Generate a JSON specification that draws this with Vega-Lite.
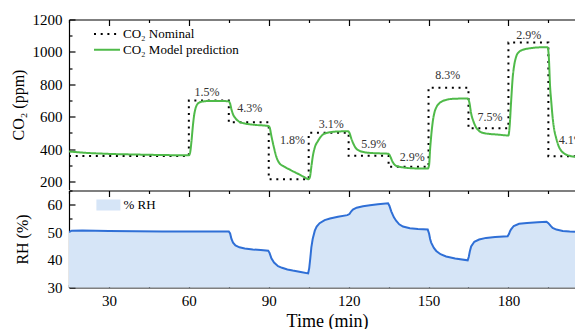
{
  "$schema": "https://vega.github.io/schema/vega-lite/v6.json",
  "padding": {"left": 10, "top": 12.5, "right": 0, "bottom": 0},
  "spacing": 0,
  "config": {
    "font": "Liberation Serif",
    "view": {"stroke": null},
    "axis": {"labelFont": "Liberation Serif", "titleFont": "Liberation Serif", "labelColor": "black", "titleColor": "black", "domainColor": "black", "tickColor": "black", "grid": false, "labelFontSize": 15, "titleFontWeight": "normal", "domainWidth": 1.2, "tickWidth": 1.2},
    "legend": {"labelFont": "Liberation Serif", "labelFontSize": 13, "labelColor": "black", "padding": 0}
  },
  "datasets": {
    "nominal": [
      {"t": 15, "co2": 357, "s": "CO₂ Nominal"},
      {"t": 60, "co2": 700, "s": "CO₂ Nominal"},
      {"t": 75, "co2": 565, "s": "CO₂ Nominal"},
      {"t": 90, "co2": 213, "s": "CO₂ Nominal"},
      {"t": 105, "co2": 500, "s": "CO₂ Nominal"},
      {"t": 120, "co2": 358, "s": "CO₂ Nominal"},
      {"t": 135, "co2": 290, "s": "CO₂ Nominal"},
      {"t": 150, "co2": 778, "s": "CO₂ Nominal"},
      {"t": 165, "co2": 528, "s": "CO₂ Nominal"},
      {"t": 180, "co2": 1058, "s": "CO₂ Nominal"},
      {"t": 195, "co2": 356, "s": "CO₂ Nominal"},
      {"t": 205, "co2": 356, "s": "CO₂ Nominal"}
    ],
    "model": [
      {"t": 15, "co2": 385}, {"t": 20, "co2": 378}, {"t": 30, "co2": 370}, {"t": 40, "co2": 366}, {"t": 50, "co2": 363}, {"t": 60, "co2": 361},
      {"t": 60.5, "co2": 380}, {"t": 61, "co2": 450}, {"t": 61.5, "co2": 540}, {"t": 62, "co2": 610}, {"t": 62.5, "co2": 650}, {"t": 63, "co2": 672}, {"t": 64, "co2": 688}, {"t": 65, "co2": 693}, {"t": 68, "co2": 697}, {"t": 72, "co2": 697}, {"t": 75, "co2": 694},
      {"t": 75.5, "co2": 680}, {"t": 76, "co2": 645}, {"t": 76.6, "co2": 614}, {"t": 77.5, "co2": 590}, {"t": 79, "co2": 568}, {"t": 81, "co2": 558}, {"t": 85, "co2": 549}, {"t": 89.8, "co2": 542},
      {"t": 90.3, "co2": 535}, {"t": 91, "co2": 480}, {"t": 91.8, "co2": 420}, {"t": 92.9, "co2": 350}, {"t": 94, "co2": 313}, {"t": 96, "co2": 290}, {"t": 98, "co2": 272}, {"t": 100, "co2": 255}, {"t": 101.6, "co2": 242}, {"t": 103, "co2": 230}, {"t": 105, "co2": 214},
      {"t": 105.5, "co2": 230}, {"t": 106, "co2": 290}, {"t": 106.6, "co2": 360}, {"t": 107.3, "co2": 410}, {"t": 108.5, "co2": 450}, {"t": 109.5, "co2": 475}, {"t": 110.4, "co2": 490}, {"t": 112, "co2": 500}, {"t": 114, "co2": 506}, {"t": 117, "co2": 509}, {"t": 119.8, "co2": 510},
      {"t": 120.3, "co2": 500}, {"t": 121, "co2": 465}, {"t": 121.6, "co2": 440}, {"t": 122.5, "co2": 410}, {"t": 124, "co2": 390}, {"t": 126, "co2": 380}, {"t": 129, "co2": 375}, {"t": 134.7, "co2": 371},
      {"t": 135.3, "co2": 365}, {"t": 136, "co2": 340}, {"t": 136.6, "co2": 318}, {"t": 137.5, "co2": 300}, {"t": 139, "co2": 291}, {"t": 141, "co2": 285}, {"t": 144, "co2": 281}, {"t": 149.7, "co2": 279},
      {"t": 150.2, "co2": 300}, {"t": 150.6, "co2": 400}, {"t": 151, "co2": 480}, {"t": 151.6, "co2": 570}, {"t": 152.3, "co2": 630}, {"t": 153, "co2": 660}, {"t": 154, "co2": 682}, {"t": 155.4, "co2": 697}, {"t": 157, "co2": 705}, {"t": 159, "co2": 710}, {"t": 164.7, "co2": 712},
      {"t": 165.3, "co2": 690}, {"t": 166, "co2": 620}, {"t": 167, "co2": 565}, {"t": 168, "co2": 530}, {"t": 169, "co2": 512}, {"t": 170.4, "co2": 500}, {"t": 173, "co2": 493}, {"t": 175.4, "co2": 490}, {"t": 180, "co2": 484},
      {"t": 180.4, "co2": 530}, {"t": 181, "co2": 690}, {"t": 181.6, "co2": 840}, {"t": 182.2, "co2": 920}, {"t": 182.9, "co2": 970}, {"t": 184, "co2": 1000}, {"t": 185.4, "co2": 1013}, {"t": 188, "co2": 1022}, {"t": 191.6, "co2": 1028}, {"t": 194.7, "co2": 1029},
      {"t": 195.2, "co2": 960}, {"t": 195.6, "co2": 800}, {"t": 196.1, "co2": 690}, {"t": 196.6, "co2": 595}, {"t": 197.2, "co2": 520}, {"t": 197.9, "co2": 470}, {"t": 198.8, "co2": 420}, {"t": 199.8, "co2": 390}, {"t": 201, "co2": 372}, {"t": 203, "co2": 358}, {"t": 205, "co2": 352}
    ],
    "labels": [
      {"t": 66.8, "co2": 753, "label": "1.5%"},
      {"t": 82.9, "co2": 652, "label": "4.3%"},
      {"t": 98.9, "co2": 454, "label": "1.8%"},
      {"t": 113.5, "co2": 556, "label": "3.1%"},
      {"t": 129.4, "co2": 433, "label": "5.9%"},
      {"t": 143.9, "co2": 353, "label": "2.9%"},
      {"t": 157.2, "co2": 855, "label": "8.3%"},
      {"t": 173.1, "co2": 599, "label": "7.5%"},
      {"t": 187.6, "co2": 1102, "label": "2.9%"},
      {"t": 203.6, "co2": 454, "label": "4.1%"}
    ],
    "rh": [
      {"t": 15, "rh": 50.0}, {"t": 16, "rh": 50.5}, {"t": 20, "rh": 50.6}, {"t": 30, "rh": 50.4}, {"t": 40, "rh": 50.3}, {"t": 50, "rh": 50.2}, {"t": 60, "rh": 50.2}, {"t": 70, "rh": 50.2}, {"t": 75, "rh": 50.2},
      {"t": 75.5, "rh": 49.5}, {"t": 76, "rh": 47.5}, {"t": 76.6, "rh": 46.2}, {"t": 77.5, "rh": 45.2}, {"t": 79, "rh": 44.5}, {"t": 81, "rh": 44.1}, {"t": 84, "rh": 43.7}, {"t": 87, "rh": 43.5}, {"t": 89.8, "rh": 43.3},
      {"t": 90.3, "rh": 42.5}, {"t": 91, "rh": 40.5}, {"t": 92, "rh": 39.0}, {"t": 93.5, "rh": 37.7}, {"t": 95, "rh": 37.1}, {"t": 97, "rh": 36.5}, {"t": 99, "rh": 36.1}, {"t": 102, "rh": 35.6}, {"t": 104.8, "rh": 35.1},
      {"t": 105.2, "rh": 37.0}, {"t": 105.6, "rh": 40.5}, {"t": 106, "rh": 44.5}, {"t": 106.5, "rh": 47.5}, {"t": 107.3, "rh": 50.5}, {"t": 108, "rh": 52.0}, {"t": 109.1, "rh": 53.2}, {"t": 111, "rh": 54.3}, {"t": 113, "rh": 54.9}, {"t": 116, "rh": 55.5}, {"t": 119.5, "rh": 56.1},
      {"t": 120.3, "rh": 56.5}, {"t": 121, "rh": 57.5}, {"t": 121.6, "rh": 58.1}, {"t": 123, "rh": 58.8}, {"t": 125.4, "rh": 59.3}, {"t": 128, "rh": 59.7}, {"t": 131, "rh": 60.0}, {"t": 134.8, "rh": 60.4},
      {"t": 135.3, "rh": 59.5}, {"t": 136, "rh": 57.5}, {"t": 137, "rh": 55.3}, {"t": 137.9, "rh": 54.0}, {"t": 139, "rh": 52.8}, {"t": 140.4, "rh": 52.0}, {"t": 143, "rh": 51.4}, {"t": 146, "rh": 51.1}, {"t": 149.7, "rh": 50.9},
      {"t": 150.2, "rh": 49.5}, {"t": 150.6, "rh": 47.5}, {"t": 151, "rh": 46.2}, {"t": 152, "rh": 44.3}, {"t": 152.9, "rh": 43.2}, {"t": 154.5, "rh": 42.0}, {"t": 156.6, "rh": 41.2}, {"t": 160, "rh": 40.5}, {"t": 164.7, "rh": 39.8},
      {"t": 165.1, "rh": 41.0}, {"t": 165.5, "rh": 43.0}, {"t": 166, "rh": 44.8}, {"t": 167.2, "rh": 46.5}, {"t": 169, "rh": 47.3}, {"t": 171.6, "rh": 47.9}, {"t": 175, "rh": 48.2}, {"t": 179.7, "rh": 48.5},
      {"t": 180.2, "rh": 49.3}, {"t": 180.6, "rh": 50.3}, {"t": 181, "rh": 51.0}, {"t": 182, "rh": 52.2}, {"t": 184, "rh": 53.0}, {"t": 187, "rh": 53.3}, {"t": 191, "rh": 53.5}, {"t": 194.3, "rh": 53.7},
      {"t": 195, "rh": 53.2}, {"t": 195.8, "rh": 52.3}, {"t": 196.6, "rh": 51.5}, {"t": 198, "rh": 50.9}, {"t": 200.4, "rh": 50.4}, {"t": 203, "rh": 50.2}, {"t": 205, "rh": 50.1}
    ]
  },
  "vconcat": [
    {
      "width": 506,
      "height": 170,
      "encoding": {
        "x": {"field": "t", "type": "quantitative", "title": null,
          "scale": {"domain": [15, 205], "nice": false, "zero": false},
          "axis": {"orient": "top", "values": [15, 30, 45, 60, 75, 90, 105, 120, 135, 150, 165, 180, 195], "labels": false, "title": null,
            "tickSize": {"condition": {"test": "datum.value % 30 === 0", "value": -6}, "value": -3}}},
        "y": {"field": "co2", "type": "quantitative", "title": "CO₂ (ppm)",
          "scale": {"domain": [150, 1200], "nice": false, "zero": false},
          "axis": {"values": [200, 300, 400, 500, 600, 700, 800, 900, 1000, 1100, 1200], "format": "d",
            "labelExpr": "datum.value % 200 === 0 ? datum.label : ''",
            "tickSize": {"condition": {"test": "datum.value % 200 === 0", "value": -6}, "value": -3},
            "labelPadding": 13, "labelFont": "Liberation Serif", "titleFontSize": 16, "titleX": -51, "titleBaseline": "middle"}}
      },
      "layer": [
        {
          "data": {"name": "nominal"},
          "mark": {"type": "line", "interpolate": "step-after", "strokeWidth": 2, "clip": true},
          "encoding": {
            "color": {"field": "s", "type": "nominal", "scale": {"domain": ["CO₂ Nominal", "CO₂ Model prediction"], "range": ["black", "#4fba49"]},
              "legend": {"title": null, "orient": "none", "legendX": 30.5, "legendY": 7, "symbolType": "M-2,0L2,0", "symbolSize": 169, "symbolStrokeWidth": 2, "labelOffset": 8.5, "rowPadding": 0.7}},
            "strokeDash": {"field": "s", "type": "nominal", "scale": {"domain": ["CO₂ Nominal", "CO₂ Model prediction"], "range": [[2, 4.7], [1, 0]]},
              "legend": {"title": null, "orient": "none", "legendX": 30.5, "legendY": 7, "symbolType": "M-2,0L2,0", "symbolSize": 169, "symbolStrokeWidth": 2, "labelOffset": 8.5, "rowPadding": 0.7}}
          }
        },
        {
          "data": {"name": "model"},
          "transform": [{"calculate": "'CO₂ Model prediction'", "as": "s"}],
          "mark": {"type": "line", "interpolate": "monotone", "strokeWidth": 2, "clip": true},
          "encoding": {
            "color": {"field": "s", "type": "nominal"},
            "strokeDash": {"field": "s", "type": "nominal"}
          }
        },
        {
          "data": {"name": "labels"},
          "mark": {"type": "text", "fontSize": 12, "color": "#333333", "font": "Liberation Serif"},
          "encoding": {"text": {"field": "label", "type": "nominal"}}
        }
      ]
    },
    {
      "width": 506,
      "height": 97,
      "data": {"name": "rh"},
      "encoding": {
        "y": {"field": "rh", "type": "quantitative", "title": "RH (%)",
          "scale": {"domain": [30, 65], "nice": false, "zero": false},
          "axis": {"values": [30, 35, 40, 45, 50, 55, 60, 65],
            "labelExpr": "datum.value % 10 === 0 ? datum.label : ''",
            "tickSize": {"condition": {"test": "datum.value % 10 === 0", "value": -6}, "value": -3},
            "labelPadding": 13, "labelFont": "Liberation Serif", "titleFontSize": 16, "titleX": -46.3, "titleBaseline": "middle"}}
      },
      "layer": [
        {
          "mark": {"type": "area", "opacity": 1, "clip": true},
          "encoding": {
            "x": {"field": "t", "type": "quantitative", "title": "Time (min)",
              "scale": {"domain": [15, 205], "nice": false, "zero": false},
              "axis": {"orient": "bottom", "values": [15, 30, 45, 60, 75, 90, 105, 120, 135, 150, 165, 180, 195],
                "labelExpr": "datum.value % 30 === 0 ? datum.label : ''",
                "tickSize": {"condition": {"test": "datum.value % 30 === 0", "value": -6}, "value": -3},
                "labelPadding": 12, "labelFont": "Liberation Serif", "titleFontSize": 18, "titleBaseline": "alphabetic", "titleY": 39, "titleX": 258}},
            "fill": {"datum": "% RH", "type": "nominal", "scale": {"range": ["#d6e5f7"]},
              "legend": {"title": null, "orient": "none", "legendX": 27.4, "legendY": 173.5, "symbolType": "M-1,-0.46L1,-0.46L1,0.46L-1,0.46Z", "symbolSize": 576, "symbolStrokeWidth": 0, "labelOffset": 3}}
          }
        },
        {
          "mark": {"type": "line", "color": "#2f6fd6", "strokeWidth": 2, "clip": true},
          "encoding": {
            "x": {"field": "t", "type": "quantitative", "title": null,
              "scale": {"domain": [15, 205], "nice": false, "zero": false},
              "axis": {"orient": "top", "values": [15, 30, 45, 60, 75, 90, 105, 120, 135, 150, 165, 180, 195], "labels": false, "title": null,
                "tickSize": {"condition": {"test": "datum.value % 30 === 0", "value": -6}, "value": -3}}}
          }
        }
      ],
      "resolve": {"axis": {"x": "independent"}}
    }
  ]
}
